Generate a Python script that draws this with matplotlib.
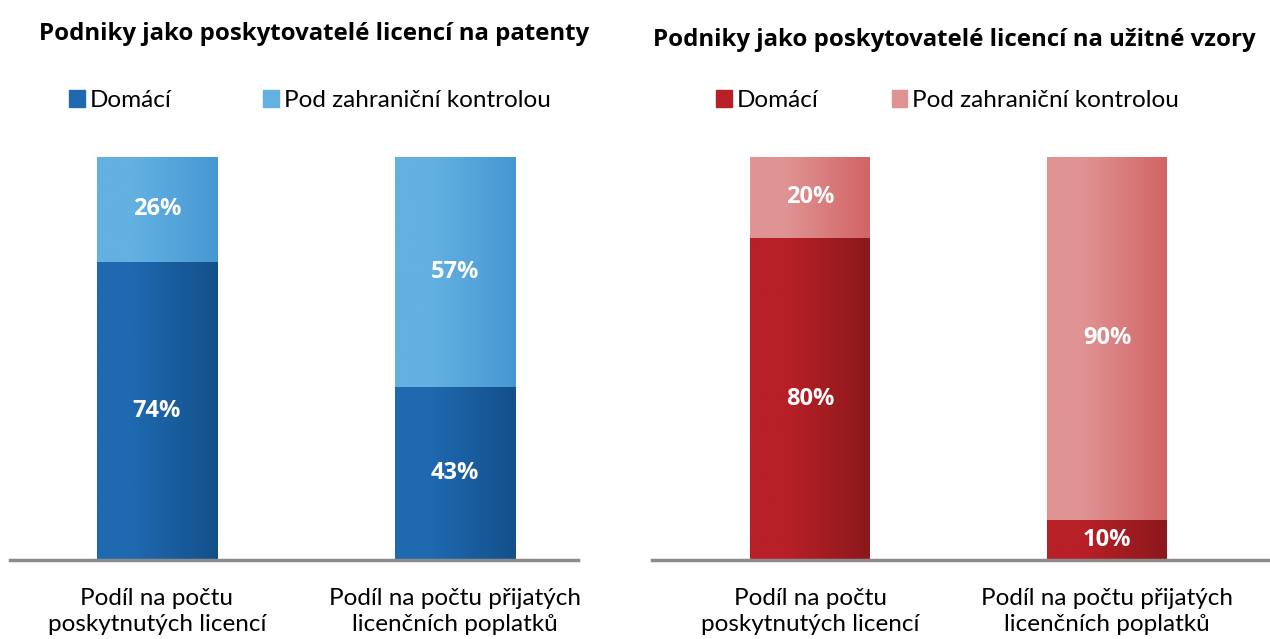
import numpy as np
import matplotlib.pyplot as plt
from matplotlib.colors import LinearSegmentedColormap
from matplotlib.patches import Patch

plt.rcParams['font.family'] = ['Lato', 'DejaVu Sans']

# Data
categories = ["Podíl na počtu\nposkytnutých licencí", "Podíl na počtu přijatých\nlicenčních poplatků"]
series_names = ["Domácí", "Pod zahraniční kontrolou"]
patent_domestic = [74, 43]
patent_foreign = [26, 57]
model_domestic = [80, 10]
model_foreign = [20, 90]

titles = ["Podniky jako poskytovatelé licencí na patenty",
          "Podniky jako poskytovatelé licencí na užitné vzory"]

blue_dark = ("#1F69B0", "#13508A")
blue_light = ("#63B1E1", "#4797D3")
red_dark = ("#B82027", "#8B181C")
red_light = ("#E09393", "#D26464")

bold_font = ['Open Sans', 'DejaVu Sans']


def gradient_bars(ax, bars, colors):
    cmap = LinearSegmentedColormap.from_list("g", [(0, colors[0]), (0.3, colors[0]), (1, colors[1])])
    grad = np.linspace(0, 1, 256).reshape(1, -1)
    for b in bars:
        x, y = b.get_x(), b.get_y()
        w, h = b.get_width(), b.get_height()
        im = ax.imshow(grad, cmap=cmap, aspect="auto", extent=(x, x + w, y, y + h), zorder=2)
        im.set_clip_path(b)
        b.set_alpha(0)


def panel(ax, dom, forn, cdark, clight, title, xlim, title_x, title_y, leg_x, colspace):
    x = np.arange(len(categories))
    b1 = ax.bar(x, dom, width=0.403, color=cdark[0], zorder=1)
    b2 = ax.bar(x, forn, bottom=dom, width=0.403, color=clight[0], zorder=1)
    gradient_bars(ax, b1, cdark)
    gradient_bars(ax, b2, clight)
    for i in range(len(x)):
        ax.text(x[i], dom[i] / 2, f"{dom[i]}%", ha="center", va="center", family=bold_font,
                color="white", fontsize=17, fontweight="bold", zorder=3)
        ax.text(x[i], dom[i] + forn[i] / 2, f"{forn[i]}%", ha="center", va="center", family=bold_font,
                color="white", fontsize=17, fontweight="bold", zorder=3)
    ax.set_xlim(*xlim)
    ax.set_ylim(0, 100)
    for s in ["top", "right", "left"]:
        ax.spines[s].set_visible(False)
    ax.spines["bottom"].set_color("#8C8C8C")
    ax.spines["bottom"].set_linewidth(2.5)
    ax.set_yticks([])
    ax.set_xticks(x)
    ax.set_xticklabels(categories, fontsize=17.5, linespacing=1.3)
    ax.tick_params(axis="x", length=0, pad=20)
    ax.set_title(title, fontsize=17.3, fontweight="bold", x=title_x, y=title_y, family=bold_font)
    handles = [Patch(color=cdark[0]), Patch(color=clight[0])]
    ax.legend(handles, series_names, loc="lower center", bbox_to_anchor=(leg_x, 1.06),
              ncol=2, frameon=False, fontsize=17.5, handlelength=0.65, handleheight=0.65,
              handletextpad=0.2, columnspacing=colspace)


fig = plt.figure(figsize=(12.7, 6.39), dpi=100)
bottom = 1 - 560 / 639
height = 403 / 639
ax1 = fig.add_axes([10 / 1270, bottom, 568 / 1270, height])
ax2 = fig.add_axes([652 / 1270, bottom, 616 / 1270, height])

panel(ax1, patent_domestic, patent_foreign, blue_dark, blue_light, titles[0], (-0.493, 1.413),
      0.535, 1.27, 0.528, 3.75)
panel(ax2, model_domestic, model_foreign, red_dark, red_light, titles[1], (-0.532, 1.542),
      0.49, 1.255, 0.48, 3.0)

fig.savefig("out.png", dpi=100)
